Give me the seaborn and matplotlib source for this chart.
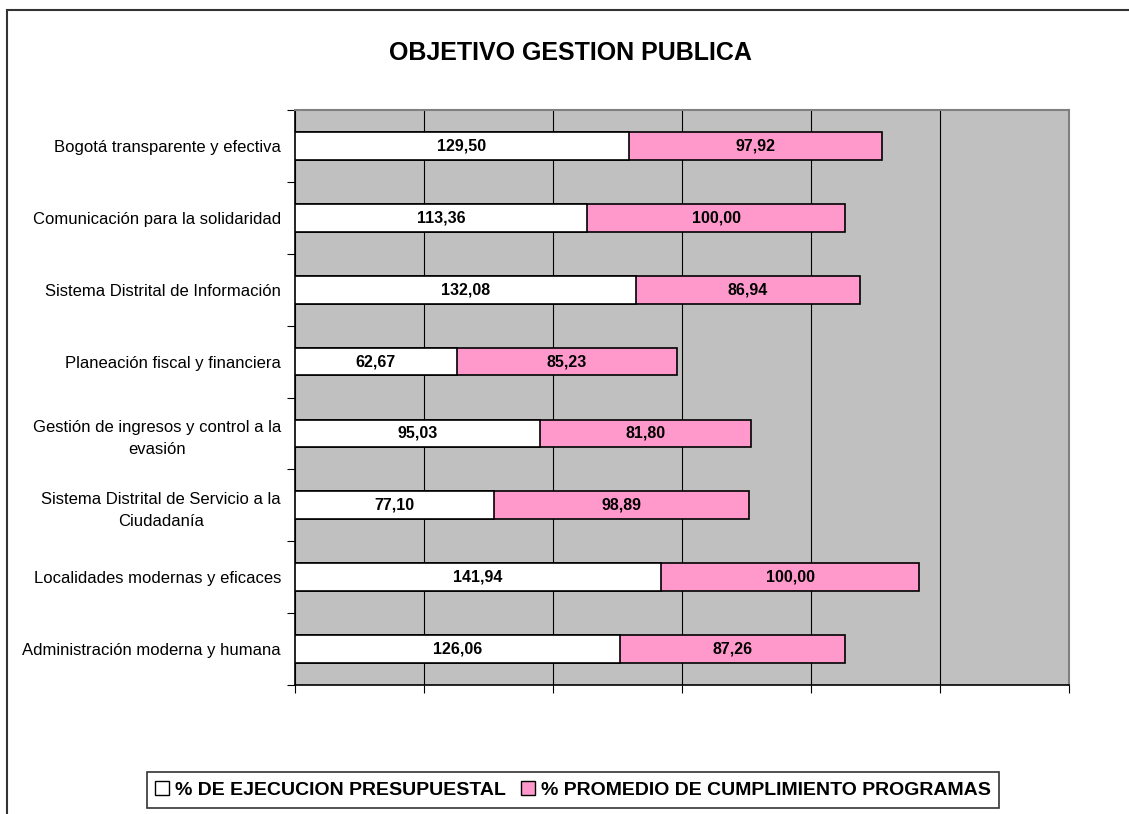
import numpy as np
import pandas as pd
import seaborn as sns
import matplotlib.pyplot as plt
from matplotlib.patches import Patch, Rectangle

objetivos = [
    "Bogotá transparente y efectiva",
    "Comunicación para la solidaridad",
    "Sistema Distrital de Información",
    "Planeación fiscal y financiera",
    "Gestión de ingresos y control a la\nevasión",
    "Sistema Distrital de Servicio a la\nCiudadanía",
    "Localidades modernas y eficaces",
    "Administración moderna y humana",
]
ejecucion = [129.50, 113.36, 132.08, 62.67, 95.03, 77.10, 141.94, 126.06]
cumplimiento = [97.92, 100.00, 86.94, 85.23, 81.80, 98.89, 100.00, 87.26]

df = pd.DataFrame({"objetivo": objetivos, "ejecucion": ejecucion, "cumplimiento": cumplimiento})
df["total"] = df["ejecucion"] + df["cumplimiento"]

sns.set_style("white")
plt.rcParams["font.family"] = ["Liberation Sans", "DejaVu Sans"]
plt.rcParams["text.color"] = "black"
plt.rcParams["ytick.color"] = "black"
plt.rcParams["xtick.color"] = "black"

ROSA = "#FF99CC"
GRIS = "#C0C0C0"

fig = plt.figure(figsize=(11.29, 8.14), dpi=100)
ax = fig.add_axes([295 / 1129, 1 - 685 / 814, (1069 - 295) / 1129, (685 - 110) / 814])
ax.set_facecolor(GRIS)

# barras apiladas: total en rosa y la ejecucion encima en blanco
sns.barplot(data=df, y="objetivo", x="total", color=ROSA, saturation=1, width=0.385,
            edgecolor="black", linewidth=1.2, orient="h", ax=ax, zorder=3)
sns.barplot(data=df, y="objetivo", x="ejecucion", color="white", saturation=1, width=0.385,
            edgecolor="black", linewidth=1.2, orient="h", ax=ax, zorder=4)

for i, row in df.iterrows():
    ax.text(row["ejecucion"] / 2, i, f"{row['ejecucion']:.2f}".replace(".", ","),
            ha="center", va="center", fontsize=11.5, fontweight="bold", color="black", zorder=5)
    ax.text(row["ejecucion"] + row["cumplimiento"] / 2, i, f"{row['cumplimiento']:.2f}".replace(".", ","),
            ha="center", va="center", fontsize=11.5, fontweight="bold", color="black", zorder=5)

ax.set_xlim(0, 300)
ax.set_ylim(len(objetivos) - 0.5, -0.5)
ax.set_xticks(np.arange(0, 301, 50))
ax.set_xticklabels([])
ax.xaxis.grid(True, color="black", linewidth=0.8)
ax.set_axisbelow(True)
ax.tick_params(axis="x", bottom=True, length=6, width=0.8, color="black", direction="out")

ax.set_yticks(range(len(objetivos)))
ax.set_yticklabels(objetivos, fontsize=12, multialignment="center", color="black")
for t in ax.get_yticklabels():
    t.set_linespacing(1.6)
ax.tick_params(axis="y", which="major", length=0, pad=10)
ax.set_yticks(np.arange(-0.5, len(objetivos), 1), minor=True)
ax.tick_params(axis="y", which="minor", left=True, length=6, width=0.8, color="black", direction="out")
ax.set_xlabel("")
ax.set_ylabel("")

for lado in ["left", "bottom"]:
    ax.spines[lado].set_color("black")
    ax.spines[lado].set_linewidth(1.2)
for lado in ["top", "right"]:
    ax.spines[lado].set_color("#808080")
    ax.spines[lado].set_linewidth(1.5)

fig.text(570 / 1129, 1 - 53 / 814, "OBJETIVO GESTION PUBLICA", ha="center", va="center",
         fontsize=18, fontweight="bold", color="black")

handles = [Patch(facecolor="white", edgecolor="black", label="% DE EJECUCION PRESUPUESTAL"),
           Patch(facecolor=ROSA, edgecolor="black", label="% PROMEDIO DE CUMPLIMIENTO PROGRAMAS")]
leg = fig.legend(handles=handles, loc="center", bbox_to_anchor=(573 / 1129, 1 - 790 / 814), ncol=2,
                 frameon=True, fancybox=False, edgecolor="black",
                 prop={"weight": "bold", "size": 14}, handlelength=0.7, handleheight=0.7,
                 handletextpad=0.3, columnspacing=0.8, borderpad=0.45)
leg.get_frame().set_linewidth(1.2)

# marco del grafico
fig.patches.append(Rectangle((7 / 1129, -0.05), 1.1, 1 - 10 / 814 + 0.05, transform=fig.transFigure,
                             fill=False, edgecolor="#333333", linewidth=1.5))

plt.savefig("out.png", dpi=100)
